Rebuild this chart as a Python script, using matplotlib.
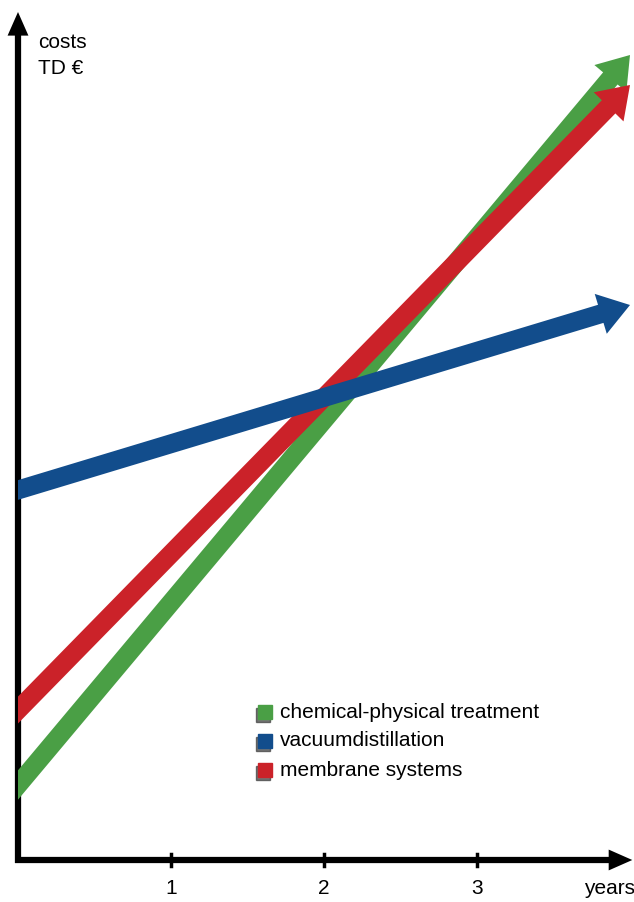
import matplotlib.pyplot as plt
from matplotlib.patches import FancyArrowPatch, Rectangle

plt.rcParams['font.family'] = ['Liberation Sans', 'DejaVu Sans']

# cost development over time (arbitrary units)
years = [0, 4]
series = ['chemical-physical treatment', 'vacuumdistillation', 'membrane systems']
costs = {
    'chemical-physical treatment': [0.75, 8.05],
    'vacuumdistillation': [3.70, 5.55],
    'membrane systems': [1.50, 7.75],
}
colors = {
    'chemical-physical treatment': '#4a9f45',
    'vacuumdistillation': '#124d8c',
    'membrane systems': '#cb2229',
}
draw_order = ['chemical-physical treatment', 'membrane systems', 'vacuumdistillation']
xticks = [1, 2, 3]

fig = plt.figure(figsize=(6.34, 9.02), dpi=100)
ax = fig.add_axes([0, 0, 1, 1])
ax.set_xlim(-18 / 153, (634 - 18) / 153)
ax.set_ylim(-0.42, 8.60)
ax.axis('off')

# axes drawn as arrows
def arrow(p0, p1, color, tail, head_w, head_l, z):
    a = FancyArrowPatch(p0, p1, arrowstyle='simple,head_width=%g,head_length=%g,tail_width=%g' % (head_w, head_l, tail),
                        mutation_scale=20, color=color, lw=0, zorder=z, shrinkA=0, shrinkB=0)
    ax.add_patch(a)
    return a

ax.plot([0, 0], [-0.03, 8.3], color='black', lw=4.5, solid_capstyle='butt', zorder=5)
ax.plot([-0.02, 3.9], [0, 0], color='black', lw=4.5, solid_capstyle='butt', zorder=5)
arrow((0, 8.2), (0, 8.48), 'black', 0.2, 0.75, 0.85, 6)
arrow((3.85, 0), (4.015, 0), 'black', 0.2, 0.75, 0.85, 6)

fs = 15
for xt in xticks:
    ax.plot([xt, xt], [-0.06, 0.06], color='black', lw=2.5, zorder=4)
    ax.text(xt, -0.29, str(xt), ha='center', va='center', fontsize=fs)
ax.text(4.03, -0.29, 'years', ha='right', va='center', fontsize=fs)
ax.text(0.13, 8.18, 'costs', ha='left', va='center', fontsize=fs)
ax.text(0.13, 7.92, 'TD €', ha='left', va='center', fontsize=fs)

# cost arrows, cut off at the y-axis
clip = Rectangle((0, -0.42), 5, 10, transform=ax.transData, visible=False)
ax.add_patch(clip)
for i, name in enumerate(draw_order):
    y0, y1 = costs[name]
    a = arrow((years[0] - 0.05, y0 - 0.05 * (y1 - y0) / 4), (years[1], y1), colors[name], 0.68, 1.5, 1.1, 10 + i)
    a.set_clip_path(clip)

# legend with shadowed squares
for i, name in enumerate(series):
    ly = (860 - (712 + 29 * i)) / 100
    ax.plot([1.60], [ly - 0.025], marker='s', ms=10.5, color='#3a3a3a', alpha=0.7, zorder=20)
    ax.plot([1.614], [ly], marker='s', ms=10, color=colors[name], zorder=21)
    ax.text(1.712, ly, name, ha='left', va='center', fontsize=fs, zorder=22)

fig.savefig('out.png', dpi=100)
